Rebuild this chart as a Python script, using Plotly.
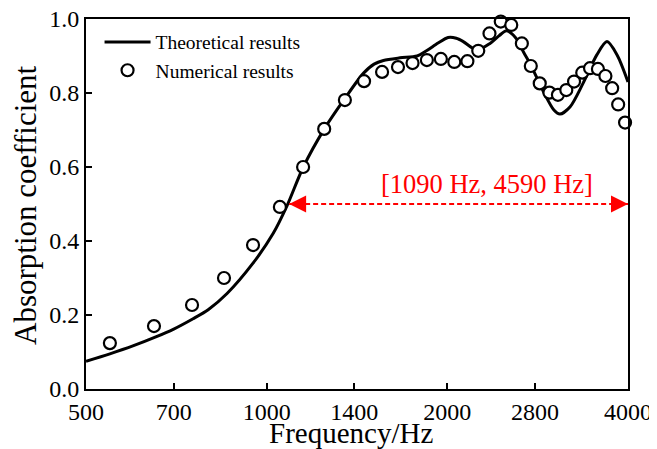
import numpy as np
import plotly.graph_objects as go

# Theoretical curve (Hz, absorption)
theory_freq = [500, 548, 600, 652, 700, 754, 800, 859, 949, 1025, 1081, 1151, 1250, 1351, 1449,
               1510, 1565, 1668, 1781, 1849, 1930, 2006, 2070, 2126, 2238, 2356, 2440, 2510,
               2603, 2680, 2746, 2891, 3010, 3081, 3204, 3366, 3549, 3690, 3836, 4000]
theory_alpha = [0.075, 0.095, 0.117, 0.140, 0.162, 0.190, 0.215, 0.258, 0.340, 0.420, 0.495, 0.600,
                0.705, 0.786, 0.853, 0.878, 0.888, 0.895, 0.900, 0.915, 0.935, 0.950, 0.948, 0.939,
                0.916, 0.934, 0.955, 0.968, 0.948, 0.910, 0.880, 0.804, 0.754, 0.743, 0.763, 0.826,
                0.903, 0.939, 0.903, 0.830]

# Numerical results (Hz, absorption)
num_freq = [548, 649, 751, 849, 949, 1052, 1150, 1247, 1350, 1453, 1557, 1655, 1750, 1849, 1951,
            2054, 2160, 2252, 2351, 2455, 2556, 2662, 2755, 2851, 2959, 3057, 3157, 3252, 3356,
            3458, 3564, 3668, 3764, 3852, 3955]
num_alpha = [0.124, 0.170, 0.227, 0.300, 0.389, 0.492, 0.600, 0.703, 0.781, 0.832, 0.857, 0.870,
             0.881, 0.889, 0.892, 0.884, 0.886, 0.914, 0.961, 0.993, 0.984, 0.934, 0.873, 0.826,
             0.801, 0.795, 0.808, 0.831, 0.855, 0.867, 0.865, 0.846, 0.813, 0.769, 0.720]

x_ticks = [500, 700, 1000, 1400, 2000, 2800, 4000]
y_ticks = [0.0, 0.2, 0.4, 0.6, 0.8, 1.0]

band_freq = [1090, 4000]
band_alpha = [0.50, 0.50]
band_label = "[1090 Hz, 4590 Hz]"
label_pos = (2330, 0.553)

x_title = "Frequency/Hz"
y_title = "Absorption coefficient"

FONT = "Liberation Serif, Times New Roman, serif"
RED = "#ff0000"

fig = go.Figure()
fig.add_trace(go.Scatter(
    x=theory_freq, y=theory_alpha, mode="lines", name="Theoretical results",
    line=dict(color="black", width=3, shape="spline", smoothing=0.8)))
fig.add_trace(go.Scatter(
    x=num_freq, y=num_alpha, mode="markers", name="Numerical results",
    marker=dict(symbol="circle", size=12, color="white", line=dict(color="black", width=2.2)),
    cliponaxis=False))
fig.add_trace(go.Scatter(
    x=band_freq, y=band_alpha, mode="lines", showlegend=False,
    line=dict(color=RED, width=2, dash="5px,3px")))

for fx, ax in [(band_freq[0], 15), (band_freq[1], -15)]:
    fig.add_annotation(x=np.log10(fx), y=band_alpha[0], xref="x", yref="y",
                       ax=ax, ay=0, text="", showarrow=True, arrowhead=2,
                       arrowsize=1.7, arrowwidth=2, arrowcolor=RED)

fig.add_annotation(x=np.log10(label_pos[0]), y=label_pos[1], xref="x", yref="y",
                   text=band_label, showarrow=False,
                   font=dict(family=FONT, size=26.5, color=RED))

# Axis titles
fig.add_annotation(x=0.5, y=0, xref="paper", yref="paper", xanchor="center", yanchor="middle",
                   xshift=-6, yshift=-44, text=x_title, showarrow=False,
                   font=dict(family=FONT, size=29, color="black"))
fig.add_annotation(x=0, y=0.5, xref="paper", yref="paper", xanchor="center", yanchor="middle",
                   xshift=-61, yshift=-1, text=y_title, textangle=-90, showarrow=False,
                   font=dict(family=FONT, size=31, color="black"))

# The page body adds an 8px margin, so the figure is sized/placed to compensate
fig.update_layout(
    width=649, height=441,
    margin=dict(l=78, r=29, t=11, b=60),
    paper_bgcolor="white", plot_bgcolor="white",
    font=dict(family=FONT, color="black"),
    showlegend=True,
    legend=dict(x=0.025, y=0.99, xanchor="left", yanchor="top",
                bgcolor="rgba(0,0,0,0)", font=dict(family=FONT, size=19.5),
                itemwidth=46, tracegroupgap=0),
    xaxis=dict(type="log", range=[np.log10(500), np.log10(4000)],
               tickvals=x_ticks, ticktext=[str(v) for v in x_ticks],
               ticks="inside", ticklen=6, tickwidth=2, tickcolor="black",
               showline=True, linecolor="black", linewidth=2, mirror=True,
               showgrid=False, zeroline=False, automargin=False,
               ticklabeloverflow="allow",
               tickfont=dict(family=FONT, size=24)),
    yaxis=dict(range=[0, 1.0], tickvals=y_ticks, tickformat=".1f",
               ticks="inside", ticklen=6, tickwidth=2, tickcolor="black",
               showline=True, linecolor="black", linewidth=2, mirror=True,
               showgrid=False, zeroline=False, automargin=False,
               ticklabeloverflow="allow",
               tickfont=dict(family=FONT, size=24)),
)

fig.write_html("out.html")
